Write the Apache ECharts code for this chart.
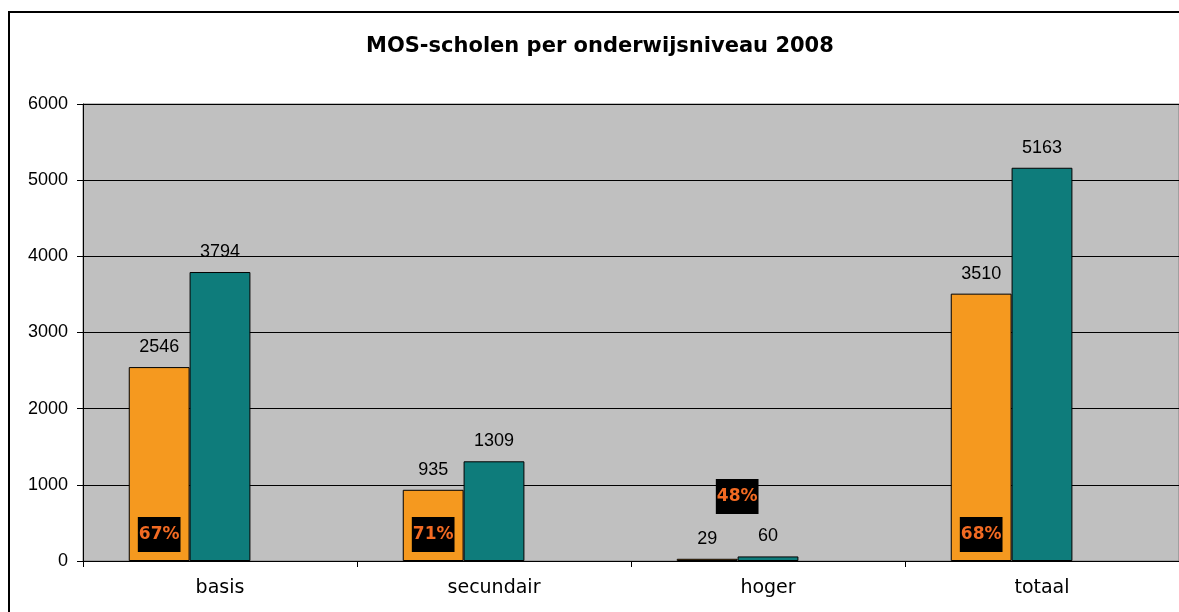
<!DOCTYPE html>
<html>
<head>
<meta charset="utf-8">
<script src="https://cdn.jsdelivr.net/npm/echarts@6/dist/echarts.min.js"></script>
<style>
  html, body { margin: 0; padding: 0; background: #fff; }
  #chart { width: 1179px; height: 612px; }
</style>
</head>
<body>
<div id="chart"></div>
<script>
// data
var categories = ["basis", "secundair", "hoger", "totaal"];
var mosScholen = [2546, 935, 29, 3510];
var alleScholen = [3794, 1309, 60, 5163];
var percentages = ["67%", "71%", "48%", "68%"];
var yTicks = [0, 1000, 2000, 3000, 4000, 5000, 6000];

var chart = echarts.init(document.getElementById("chart"));

// the percentage boxes sit near the bottom of the orange bar, except for hoger
var pctData = percentages.map(function (p, i) {
  var item = { value: 0 };
  if (categories[i] == "hoger") {
    item.label = { distance: 47, offset: [30, 0] };
  }
  return item;
});

var valueLabel = {
  show: true,
  position: "top",
  distance: 11,
  fontFamily: "Liberation Sans",
  fontSize: 18,
  color: "#000"
};

var option = {
  animation: false,
  backgroundColor: "#fff",
  title: {
    text: "MOS-scholen per onderwijsniveau 2008",
    left: 361,
    top: 31,
    textStyle: { fontFamily: "DejaVu Sans", fontWeight: "bold", fontSize: 21, color: "#000" }
  },
  graphic: [{
    type: "rect",
    shape: { x: 9, y: 12, width: 1300, height: 700 },
    style: { fill: "none", stroke: "#000", lineWidth: 2 },
    silent: true,
    z: 0
  }],
  grid: {
    left: 83, top: 104, right: -4, bottom: 51,
    show: true,
    backgroundColor: "#c0c0c0",
    borderColor: "#808080",
    borderWidth: 1
  },
  xAxis: {
    type: "category",
    data: categories,
    axisLine: { lineStyle: { color: "#000", width: 1 } },
    axisTick: { show: true, length: 6, lineStyle: { color: "#000" } },
    axisLabel: { fontFamily: "DejaVu Sans", fontSize: 19, color: "#000", margin: 18 }
  },
  yAxis: {
    type: "value",
    min: yTicks[0],
    max: yTicks[yTicks.length - 1],
    interval: 1000,
    axisLine: { show: true, lineStyle: { color: "#000" } },
    axisTick: { show: true, length: 6, lineStyle: { color: "#000" } },
    axisLabel: {
      fontFamily: "Liberation Sans", fontSize: 18, color: "#000", margin: 15,
      formatter: function (v) { return String(v); }
    },
    splitLine: { lineStyle: { color: "#000", width: 1 } }
  },
  series: [
    {
      name: "pct",
      type: "bar",
      stack: "o",
      data: pctData,
      itemStyle: { color: "transparent" },
      z: 5,
      label: {
        show: true,
        position: "top",
        distance: 9,
        formatter: function (p) { return percentages[p.dataIndex]; },
        backgroundColor: "#000",
        padding: [8, 1, 8, 1],
        lineHeight: 19,
        fontFamily: "DejaVu Sans",
        fontWeight: "bold",
        fontSize: 17,
        color: "#f26a22"
      },
      barGap: 0,
      barCategoryGap: "33.4%"
    },
    {
      name: "MOS-scholen",
      type: "bar",
      stack: "o",
      data: mosScholen,
      itemStyle: { color: "#f5991f", borderColor: "#000", borderWidth: 1 },
      label: valueLabel,
      barGap: 0,
      barCategoryGap: "33.4%"
    },
    {
      name: "alle scholen",
      type: "bar",
      data: alleScholen,
      itemStyle: { color: "#0e7c7b", borderColor: "#000", borderWidth: 1 },
      label: valueLabel,
      barGap: 0,
      barCategoryGap: "33.4%"
    },
    {
      // empty third series: keeps the bars left of the category centre as in the original
      name: "leeg",
      type: "bar",
      data: categories.map(function () { return "-"; }),
      barGap: 0,
      barCategoryGap: "33.4%"
    }
  ]
};

chart.setOption(option);
</script>
</body>
</html>
